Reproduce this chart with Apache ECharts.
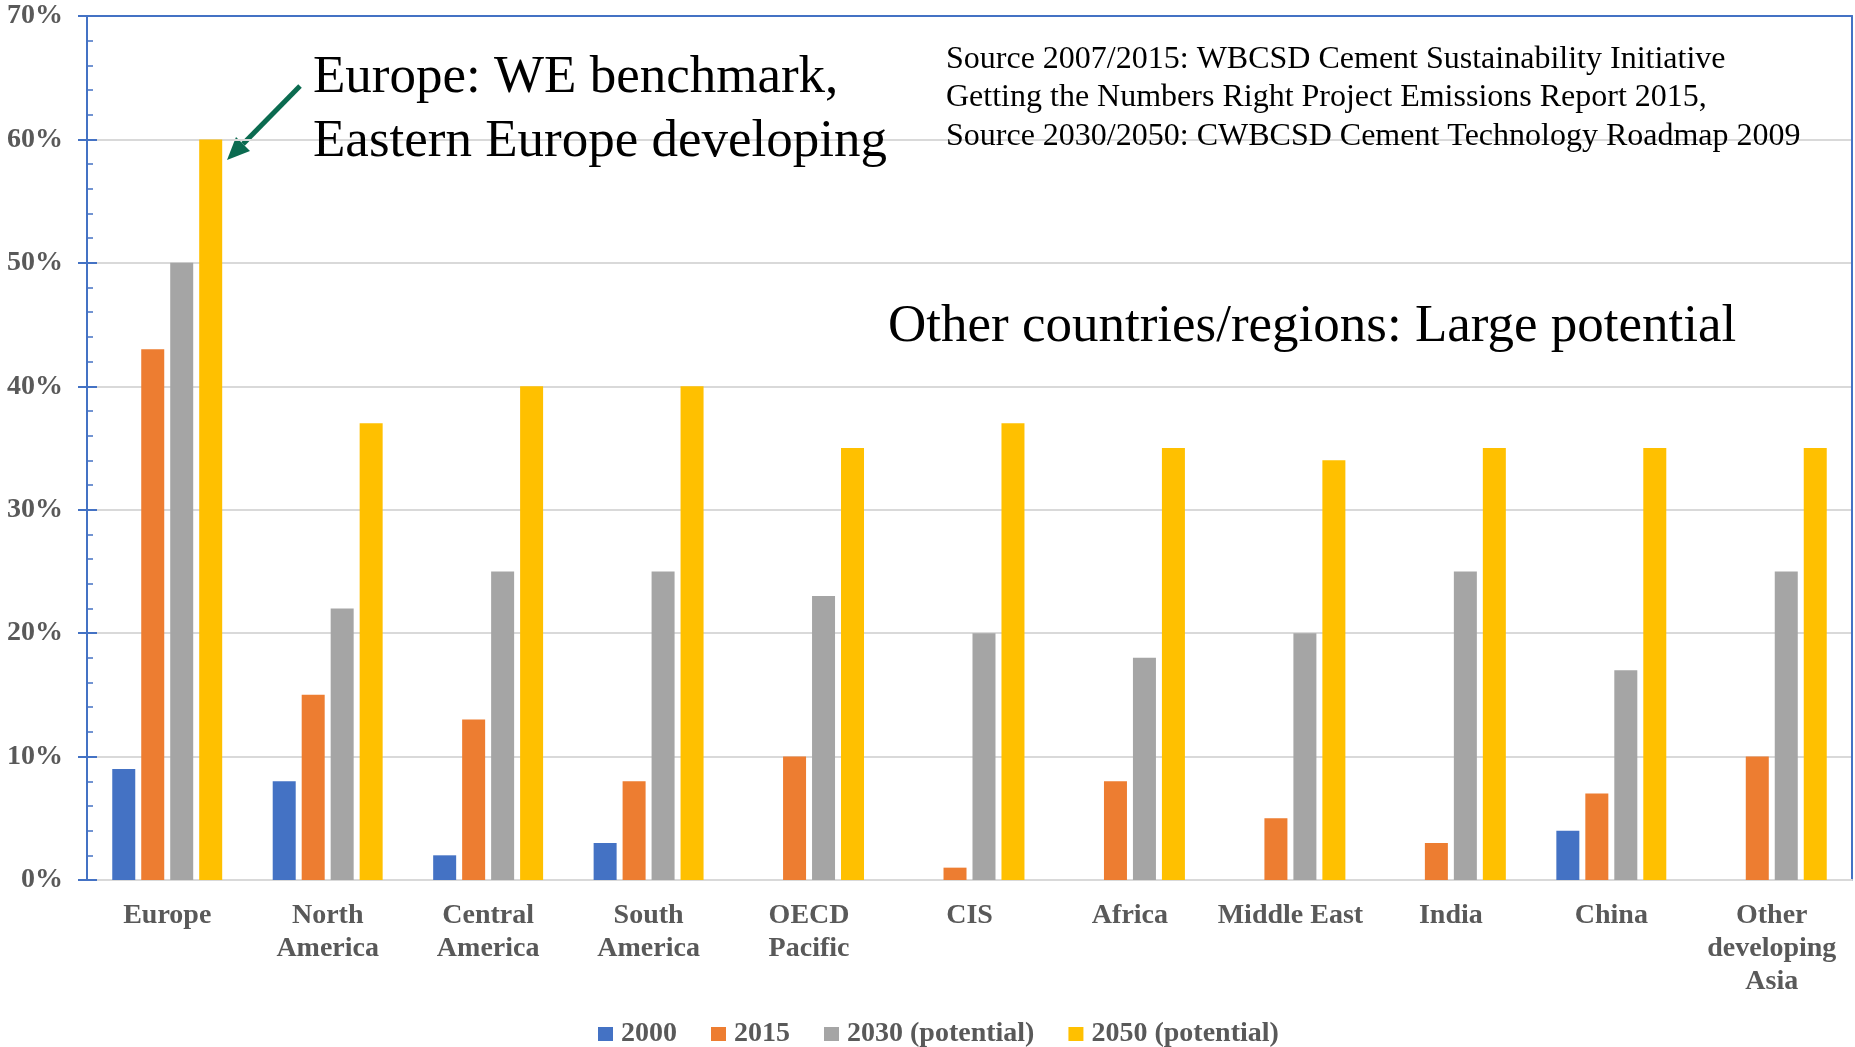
<!DOCTYPE html>
<html>
<head>
<meta charset="utf-8">
<title>Alternative fuel share in cement kilns by region</title>
<script src="https://cdn.jsdelivr.net/npm/echarts@6/dist/echarts.min.js"></script>
<style>
  html, body { margin: 0; padding: 0; background: #ffffff; }
  #chart { width: 1855px; height: 1047px; }
</style>
</head>
<body>
<div id="chart"></div>
<script>
// Regions on the category axis (line breaks as printed under the bars)
const categories = [
  'Europe', 'North\nAmerica', 'Central\nAmerica', 'South\nAmerica', 'OECD\nPacific',
  'CIS', 'Africa', 'Middle East', 'India', 'China', 'Other\ndeveloping\nAsia'
];

// Share of alternative fuels, percent
const share2000 = [9, 8, 2, 3, 0, 0, 0, 0, 0, 4, 0];
const share2015 = [43, 15, 13, 8, 10, 1, 8, 5, 3, 7, 10];
const share2030 = [50, 22, 25, 25, 23, 20, 18, 20, 25, 17, 25];
const share2050 = [60, 37, 40, 40, 35, 37, 35, 34, 35, 35, 35];

const seriesNames = ['2000', '2015', '2030 (potential)', '2050 (potential)'];
const seriesColors = ['#4472C4', '#ED7D31', '#A5A5A5', '#FFC000'];

// Value axis range and ticks
const yMin = 0;
const yMax = 70;
const yStep = 10;

const SERIF = "'Liberation Serif', 'Times New Roman', serif";
const AXIS_BLUE = '#4472C4';
const GRID_GRAY = '#d9d9d9';
const LABEL_GRAY = '#595959';

const chart = echarts.init(document.getElementById('chart'));

const plotRect = { left: 87, right: 3, top: 16, bottom: 167 };

function makeBar(name, data, color) {
  return {
    name: name,
    type: 'bar',
    data: data,
    barWidth: 23,
    barGap: '26%',
    itemStyle: { color: color },
    emphasis: { disabled: true },
    animation: false
  };
}

const option = {
  animation: false,
  backgroundColor: '#ffffff',
  grid: [
    Object.assign({ containLabel: false }, plotRect),
    Object.assign({ containLabel: false }, plotRect)
  ],
  legend: {
    left: 598,
    top: 1020,
    padding: 0,
    itemWidth: 15,
    itemHeight: 14,
    itemGap: 34,
    icon: 'rect',
    textStyle: {
      fontFamily: SERIF,
      fontWeight: 'bold',
      fontSize: 28,
      color: LABEL_GRAY,
      padding: [0, 0, 0, 3]
    },
    data: seriesNames
  },
  xAxis: [
    {
      gridIndex: 0,
      type: 'category',
      data: categories,
      position: 'bottom',
      axisLine: { show: true, onZero: false, lineStyle: { color: GRID_GRAY, width: 2 } },
      axisTick: { show: false },
      axisLabel: {
        interval: 0,
        margin: 19,
        fontFamily: SERIF,
        fontWeight: 'bold',
        fontSize: 28,
        lineHeight: 33,
        color: LABEL_GRAY
      }
    },
    {
      // blue frame along the top of the plot
      gridIndex: 0,
      type: 'category',
      data: categories,
      position: 'top',
      axisLine: { show: true, onZero: false, lineStyle: { color: AXIS_BLUE, width: 2 } },
      axisTick: { show: false },
      axisLabel: { show: false },
      splitLine: { show: false }
    },
    {
      gridIndex: 1,
      type: 'category',
      data: categories,
      show: false
    }
  ],
  yAxis: [
    {
      gridIndex: 0,
      type: 'value',
      position: 'left',
      min: yMin,
      max: yMax,
      interval: yStep,
      axisLine: { show: true, onZero: false, lineStyle: { color: AXIS_BLUE, width: 2 } },
      axisTick: { show: true, inside: true, length: 10, lineStyle: { color: AXIS_BLUE, width: 2 } },
      minorTick: { show: true, splitNumber: 5, length: 6, lineStyle: { color: AXIS_BLUE, width: 1.5 } },
      axisLabel: {
        margin: 24,
        formatter: '{value}%',
        fontFamily: SERIF,
        fontWeight: 'bold',
        fontSize: 28,
        color: LABEL_GRAY
      },
      splitLine: { show: true, lineStyle: { color: GRID_GRAY, width: 2 } }
    },
    {
      // blue frame along the right side of the plot
      gridIndex: 0,
      type: 'value',
      position: 'right',
      min: yMin,
      max: yMax,
      interval: yStep,
      axisLine: { show: true, onZero: false, lineStyle: { color: AXIS_BLUE, width: 2 } },
      axisTick: { show: false },
      axisLabel: { show: false },
      splitLine: { show: false }
    },
    {
      // outward halves of the major ticks on the left axis
      gridIndex: 1,
      type: 'value',
      position: 'left',
      min: yMin,
      max: yMax,
      interval: yStep,
      axisLine: { show: false, onZero: false },
      axisTick: { show: true, inside: false, length: 9, lineStyle: { color: AXIS_BLUE, width: 2 } },
      axisLabel: { show: false },
      splitLine: { show: false }
    }
  ],
  series: [
    makeBar(seriesNames[0], share2000, seriesColors[0]),
    makeBar(seriesNames[1], share2015, seriesColors[1]),
    makeBar(seriesNames[2], share2030, seriesColors[2]),
    makeBar(seriesNames[3], share2050, seriesColors[3])
  ],
  graphic: [
    {
      type: 'text',
      left: 313,
      top: 46,
      z: 10,
      style: {
        text: 'Europe: WE benchmark,\nEastern Europe developing',
        font: '53px ' + SERIF,
        lineHeight: 64,
        fill: '#000000'
      }
    },
    {
      type: 'text',
      left: 946,
      top: 40,
      z: 10,
      style: {
        text: 'Source 2007/2015: WBCSD Cement Sustainability Initiative\n' +
              'Getting the Numbers Right Project Emissions Report 2015,\n' +
              'Source 2030/2050: CWBCSD Cement Technology Roadmap 2009',
        font: '32px ' + SERIF,
        lineHeight: 38.5,
        fill: '#000000'
      }
    },
    {
      type: 'text',
      left: 888,
      top: 301,
      z: 10,
      style: {
        text: 'Other countries/regions: Large potential',
        font: '53px ' + SERIF,
        fill: '#000000'
      }
    },
    {
      // pointer towards the Europe 2050 bar
      type: 'group',
      z: 10,
      children: [
        {
          type: 'line',
          shape: { x1: 300, y1: 86, x2: 243, y2: 144 },
          style: { stroke: '#0b6b50', lineWidth: 5 }
        },
        {
          type: 'polygon',
          shape: { points: [[227, 160], [250, 151], [236, 137]] },
          style: { fill: '#0b6b50' }
        }
      ]
    }
  ]
};

chart.setOption(option);
</script>
</body>
</html>
